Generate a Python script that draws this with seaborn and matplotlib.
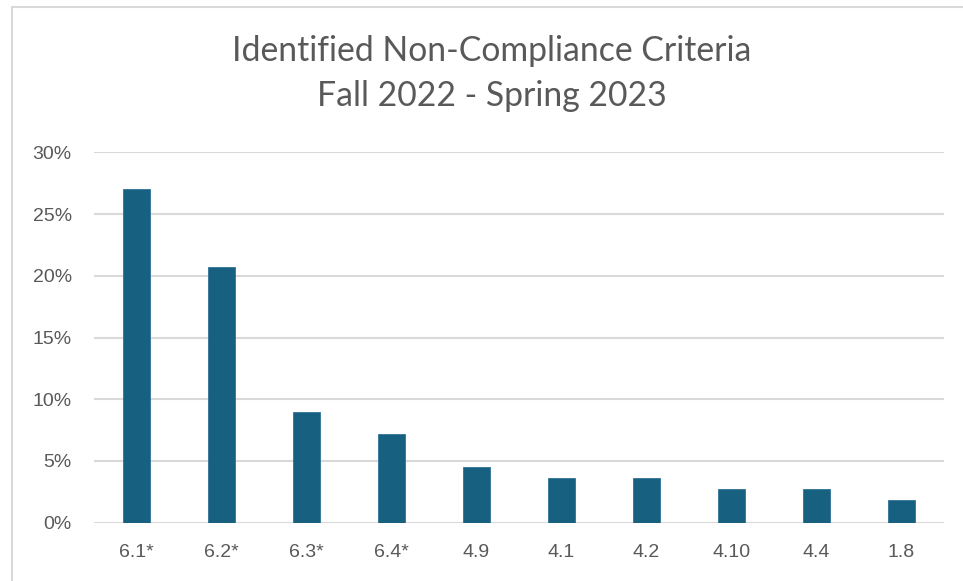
import matplotlib
matplotlib.use("Agg")
import matplotlib.pyplot as plt
import seaborn as sns
import pandas as pd
from matplotlib.lines import Line2D
from matplotlib.ticker import FuncFormatter

# data (percent of findings)
criteria = ["6.1*", "6.2*", "6.3*", "6.4*", "4.9", "4.1", "4.2", "4.10", "4.4", "1.8"]
percent = [27.0, 20.7, 9.0, 7.2, 4.5, 3.6, 3.6, 2.7, 2.7, 1.8]

df = pd.DataFrame({"Criteria": criteria, "Percent": percent})

sns.set_theme(style="white")
plt.rcParams["font.family"] = ["Liberation Sans", "DejaVu Sans"]

fig = plt.figure(figsize=(9.63, 5.81), dpi=100)
ax = fig.add_axes([0.0976, 0.1003, 0.8826, 0.6376])

sns.barplot(data=df, x="Criteria", y="Percent", color="#17607f",
            width=0.32, saturation=1, edgecolor="#2f7394", linewidth=0.6, ax=ax)

ax.set_ylim(0, 30)
ax.set_yticks(range(0, 31, 5))
ax.yaxis.set_major_formatter(FuncFormatter(lambda v, p: f"{int(v)}%"))
ax.set_xlim(-0.5, len(criteria) - 0.5)
ax.grid(axis="y", color="#d9d9d9", linewidth=1.5)
ax.set_axisbelow(True)
for s in ax.spines.values():
    s.set_visible(False)
ax.set_xlabel("")
ax.set_ylabel("")
ax.tick_params(axis="y", length=0, pad=16, labelsize=14, labelcolor="#595959")
ax.tick_params(axis="x", length=0, pad=15, labelsize=14, labelcolor="#595959")

fig.text(0.511, 0.8735, "Identified Non-Compliance Criteria\nFall 2022 - Spring 2023",
         ha="center", va="center", fontsize=24.3, color="#595959",
         family=["Lato", "DejaVu Sans"], linespacing=1.5)

# chart frame (clipped at the right and bottom in the reference)
fig.add_artist(Line2D([12 / 963, 12 / 963], [0, 1 - 7 / 581], transform=fig.transFigure,
                      color="#d9d9d9", linewidth=1.5))
fig.add_artist(Line2D([12 / 963, 1], [1 - 7 / 581, 1 - 7 / 581], transform=fig.transFigure,
                      color="#d9d9d9", linewidth=1.5))

fig.savefig("out.png", dpi=100)
